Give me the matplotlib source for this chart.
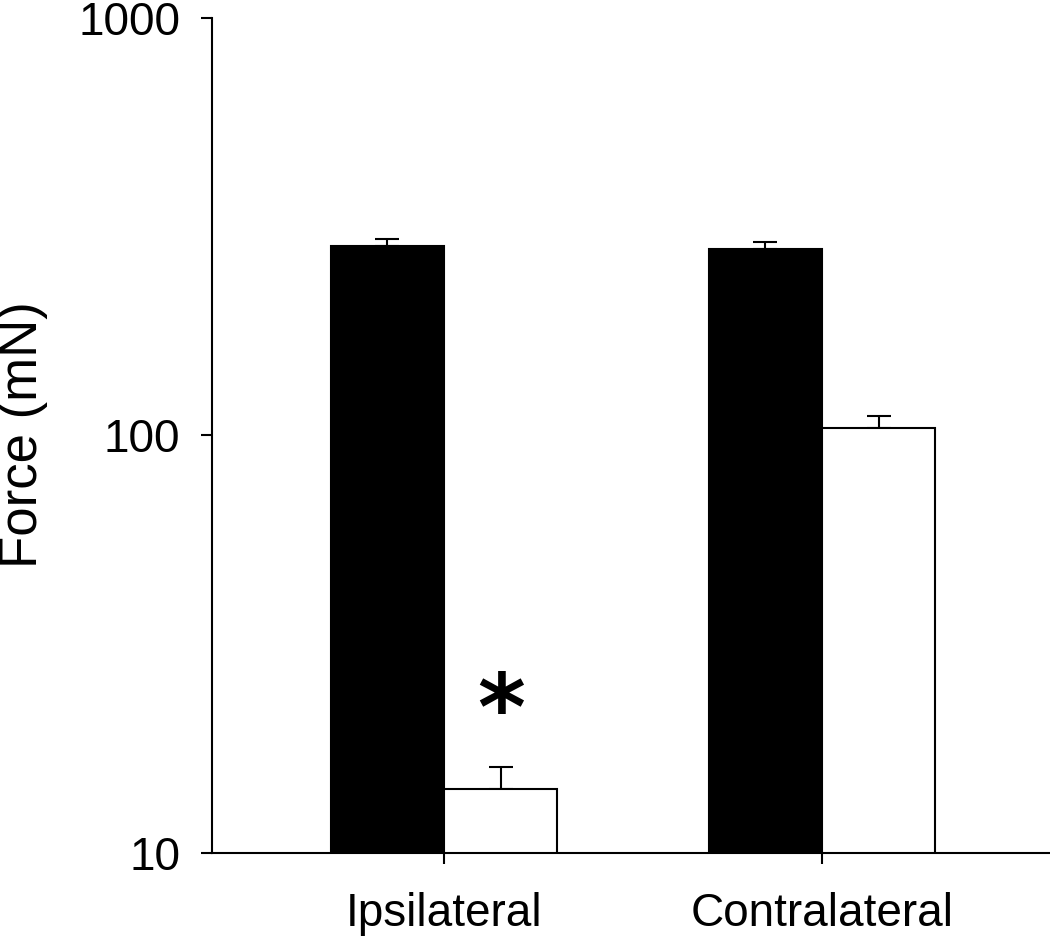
import numpy as np
import matplotlib.pyplot as plt

plt.rcParams['font.family'] = ['Liberation Sans', 'DejaVu Sans']

groups = ['Ipsilateral', 'Contralateral']
black_vals = [284.4, 279.2]
black_err = [11.7, 12.0]
white_vals = [14.2, 104.2]
white_err = [1.9, 7.2]
yticks = [10, 100, 1000]

fig = plt.figure(figsize=[10.5, 9.39], dpi=100)
ax = fig.add_axes([212 / 1050, 1 - 853 / 939, 838 / 1050, (853 - 18) / 939])

x = np.arange(len(groups))
w = 0.3
ax.bar(x - w / 2, black_vals, width=w, color='black', edgecolor='black', linewidth=1.5, zorder=2)
ax.bar(x + w / 2, white_vals, width=w, color='white', edgecolor='black', linewidth=1.5, zorder=2)
ax.errorbar(x - w / 2, black_vals, yerr=[[0, 0], black_err], fmt='none', ecolor='black',
            elinewidth=1.5, capsize=8.5, capthick=1.5, zorder=1)
ax.errorbar(x + w / 2, white_vals, yerr=[[0, 0], white_err], fmt='none', ecolor='black',
            elinewidth=1.5, capsize=8.5, capthick=1.5, zorder=1)

ax.set_yscale('log')
ax.set_ylim(10, 1000)
ax.set_xlim(-0.614, 1.603)
ax.set_yticks(yticks)
ax.set_yticklabels([str(t) for t in yticks])
ax.yaxis.set_minor_locator(plt.NullLocator())
ax.set_xticks(x)
ax.set_xticklabels(groups)

for s in ['top', 'right']:
    ax.spines[s].set_visible(False)
for s in ['left', 'bottom']:
    ax.spines[s].set_linewidth(1.5)
ax.tick_params(axis='both', direction='out', length=8, width=1.5, labelsize=33)
ax.tick_params(axis='y', pad=15)
ax.tick_params(axis='x', pad=20)

ax.text(x[0] + w / 2, 21.5, '*', ha='center', va='center', fontsize=66,
        fontweight='bold', family='DejaVu Sans')

fig.text(23 / 1050, 1 - 435 / 939, 'Force (mN)', rotation=90, ha='center', va='center', fontsize=38)

fig.savefig('out.png')
